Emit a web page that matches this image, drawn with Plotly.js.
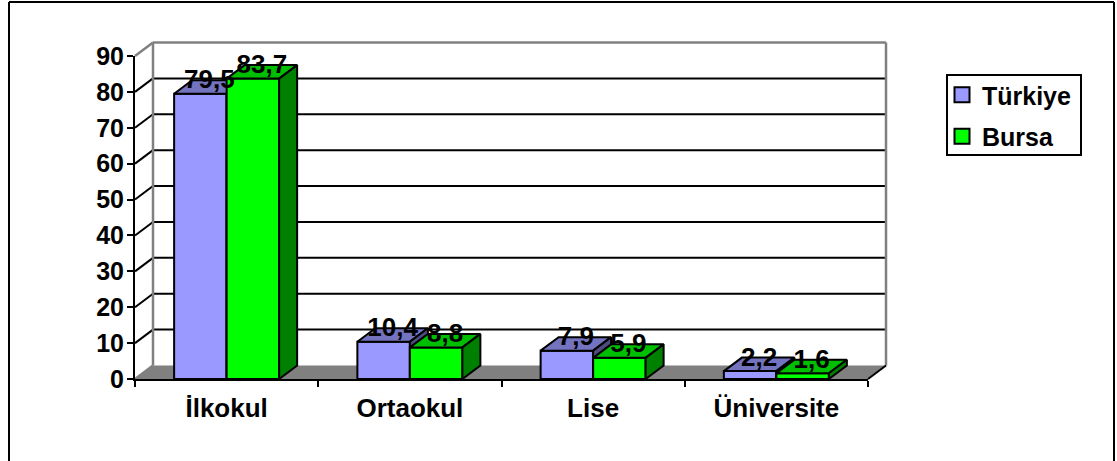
<!DOCTYPE html>
<html><head><meta charset="utf-8">
<script src="https://cdn.plot.ly/plotly-3.0.1.min.js"></script>
<style>html,body{margin:0;padding:0;background:#fff}</style>
</head><body><div id="chart" style="width:1117px;height:461px"></div>
<script>
const categories = ["İlkokul","Ortaokul","Lise","Üniversite"];
const turkiye = [79.5,10.4,7.9,2.2];
const bursa = [83.7,8.8,5.9,1.6];
const seriesNames = ["Türkiye","Bursa"];
const yTicks = [0,10,20,30,40,50,60,70,80,90];

const W=1117,H=461,L=135,R=868,T=56,B=379;
const xMin=-0.5,xMax=3.5,yMax=90;
const barW=0.2865;
const dx=18/((R-L)/4), dy=13.5/((B-T)/yMax);
const labelDrop=1.5/((B-T)/yMax);
const idx=categories.map((c,i)=>i);
const fmt=v=>String(v).replace('.',',');
const FONT="Liberation Sans, Arial, sans-serif";
// paper mapping so the back wall can leave the front plot area
const px=x=>(x-xMin)/(xMax-xMin), py=y=>y/yMax;
function seg(x0,y0,x1,y1,color,width){return {type:'line',xref:'paper',yref:'paper',layer:'below',
  x0:px(x0),y0:py(y0),x1:px(x1),y1:py(y1),line:{color:color,width:width}};}
const shapes=[];
shapes.push({type:'path',xref:'paper',yref:'paper',layer:'below',line:{width:0},fillcolor:'#808080',
  path:`M${px(xMin)},${py(0)}L${px(xMax)},${py(0)}L${px(xMax+dx)},${py(dy)}L${px(xMin+dx)},${py(dy)}Z`});
yTicks.forEach(v=>{
  if(v>0 && v<yMax){
    shapes.push(seg(xMin+dx,v+dy,xMax+dx,v+dy,'#000',2));
    shapes.push(seg(xMin,v,xMin+dx,v+dy,'#000',2));
  }
});
shapes.push(seg(xMin+dx,dy,xMin+dx,yMax+dy,'#808080',2.5));
shapes.push(seg(xMax+dx,dy,xMax+dx,yMax+dy,'#808080',2.5));
shapes.push(seg(xMin+dx,yMax+dy,xMax+dx,yMax+dy,'#808080',2.5));
shapes.push(seg(xMin,yMax,xMin+dx,yMax+dy,'#808080',2.5));
shapes.push(seg(xMin,0,xMin+dx,dy,'#808080',2.5));
shapes.push(seg(xMax,0,xMax+dx,dy,'#000',2));
// outer frame and legend box in paper units
const fx=p=>(p-L)/(R-L), fy=p=>(B-p)/(B-T);
[[9,2,1114,2],[9,2,9,461],[1114,2,1114,461]].forEach(s=>shapes.push({type:'line',xref:'paper',yref:'paper',layer:'below',
  x0:fx(s[0]),y0:fy(s[1]),x1:fx(s[2]),y1:fy(s[3]),line:{color:'#000',width:2}}));
shapes.push({type:'rect',xref:'paper',yref:'paper',layer:'below',x0:fx(947),y0:fy(75),x1:fx(1081),y1:fy(155),fillcolor:'#fff',line:{color:'#000',width:2}});

function faces(vals,off,top,side,xa,ya){
  const out=[];
  vals.forEach((v,i)=>{
    const xl=i+off, xr=xl+barW;
    out.push({type:'scatter',mode:'lines',x:[xl,xl+dx,xr+dx,xr,xl],y:[v,v+dy,v+dy,v,v],fill:'toself',fillcolor:top,
      line:{color:'#000',width:2},showlegend:false,hoverinfo:'skip',cliponaxis:false,xaxis:xa,yaxis:ya});
    out.push({type:'scatter',mode:'lines',x:[xr,xr+dx,xr+dx,xr,xr],y:[0,dy,v+dy,v,0],fill:'toself',fillcolor:side,
      line:{color:'#000',width:2},showlegend:false,hoverinfo:'skip',cliponaxis:false,xaxis:xa,yaxis:ya});
  });
  return out;
}
const blue='#9999FF', green='#00FF00';
const data=[
 {type:'bar',x:idx,y:turkiye,width:barW,offset:-barW,marker:{color:blue,line:{color:'#000',width:2}},showlegend:false,cliponaxis:false,hoverinfo:'skip',xaxis:'x',yaxis:'y'},
 ...faces(turkiye,-barW,'#7373BF','#4C4C80','x','y'),
 {type:'bar',x:idx,y:bursa,width:barW,offset:0,marker:{color:green,line:{color:'#000',width:2}},showlegend:false,cliponaxis:false,hoverinfo:'skip',xaxis:'x2',yaxis:'y2'},
 ...faces(bursa,0,'#00BF00','#008000','x2','y2'),
 {type:'scatter',mode:'text',x:idx.map(i=>i-barW/2+dx/2),y:turkiye.map(v=>v+dy-labelDrop),text:turkiye.map(fmt),textposition:'middle center',
  textfont:{family:FONT,size:26,color:'#000'},showlegend:false,hoverinfo:'skip',cliponaxis:false,xaxis:'x2',yaxis:'y2'},
 {type:'scatter',mode:'text',x:idx.map(i=>i+barW/2+dx/2),y:bursa.map(v=>v+dy-labelDrop),text:bursa.map(fmt),textposition:'middle center',
  textfont:{family:FONT,size:26,color:'#000'},showlegend:false,hoverinfo:'skip',cliponaxis:false,xaxis:'x2',yaxis:'y2'},
 {type:'scatter',mode:'markers',x:[null],y:[null],name:seriesNames[0],legendgroup:'a',marker:{symbol:'square',size:15,color:blue,line:{color:'#000',width:2}},xaxis:'x2',yaxis:'y2'},
 {type:'scatter',mode:'markers',x:[null],y:[null],name:seriesNames[1],legendgroup:'b',marker:{symbol:'square',size:15,color:green,line:{color:'#000',width:2}},xaxis:'x2',yaxis:'y2'}
];
const layout={
 width:W,height:H,autosize:false,margin:{l:L,r:W-R,t:T,b:H-B,pad:0},
 paper_bgcolor:'#fff',plot_bgcolor:'rgba(0,0,0,0)',showlegend:true,hovermode:false,
 font:{family:FONT,size:25,color:'#000',weight:700},
 xaxis:{type:'linear',range:[xMin,xMax],tickmode:'array',tickvals:idx,ticktext:categories,ticks:'',showgrid:false,zeroline:false,
   showline:true,linecolor:'#000',linewidth:2,ticklabelstandoff:5,tickfont:{family:FONT,size:26,weight:700,color:'#000'},
   minor:{tickmode:'array',tickvals:[-0.5,0.5,1.5,2.5,3.5],ticks:'outside',ticklen:6,tickwidth:2,tickcolor:'#000',showgrid:false}},
 yaxis:{type:'linear',range:[0,yMax],tickmode:'array',tickvals:yTicks,ticks:'outside',ticklen:6,tickwidth:2,tickcolor:'#000',showgrid:false,zeroline:false,
   showline:true,linecolor:'#000',linewidth:2,ticklabelstandoff:-2,tickfont:{family:FONT,size:25,weight:700,color:'#000'}},
 xaxis2:{type:'linear',range:[xMin,xMax],overlaying:'x',visible:false},
 yaxis2:{type:'linear',range:[0,yMax],overlaying:'y',visible:false},
 legend:{x:fx(944),y:fy(72),xanchor:'left',yanchor:'top',bgcolor:'rgba(0,0,0,0)',borderwidth:0,indentation:-2,
   traceorder:'grouped',tracegroupgap:6,font:{family:FONT,size:25,weight:700,color:'#000'}},
 shapes:shapes
};
Plotly.newPlot('chart',data,layout,{displayModeBar:false,responsive:false});
</script></body></html>
